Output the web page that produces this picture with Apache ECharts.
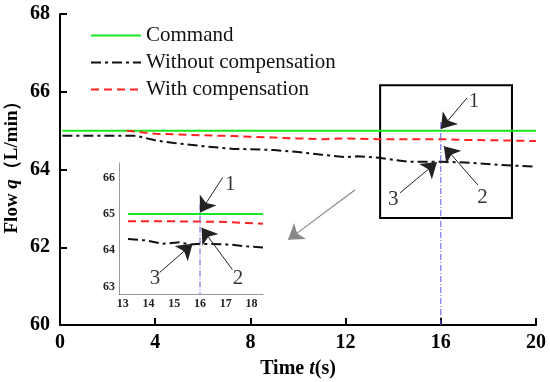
<!DOCTYPE html>
<html><head><meta charset="utf-8">
<script src="https://cdn.jsdelivr.net/npm/echarts@6/dist/echarts.min.js"></script>
<style>html,body{margin:0;padding:0;background:#fff}#c{width:550px;height:382px}</style>
</head><body><div id="c"></div>
<script>
// ---- data ----
const xTicksMain = [0, 4, 8, 12, 16, 20];
const yTicksMain = [60, 62, 64, 66, 68];
const commandMain = [[0.1, 65.0], [20, 65.0]];
const withoutMain = [[0.1, 64.87], [1.5, 64.87], [3.2, 64.87], [4.0, 64.75], [4.8, 64.68], [6.0, 64.6], [7.3, 64.53], [8.0, 64.52], [9.0, 64.5], [10.0, 64.45], [11.0, 64.38], [12.0, 64.32], [12.5, 64.34], [13.4, 64.3], [14.6, 64.2], [16.0, 64.2], [17.0, 64.18], [18.5, 64.12], [20.0, 64.07]];
const withMain = [[2.8, 65.0], [3.5, 64.95], [4.0, 64.92], [5.0, 64.9], [6.0, 64.88], [7.3, 64.86], [8.0, 64.84], [9.0, 64.82], [10.0, 64.8], [11.0, 64.78], [12.0, 64.8], [13.4, 64.78], [16.0, 64.78], [17.0, 64.76], [18.5, 64.75], [20.0, 64.73]];
const markerMain = [[16, 65.22], [16, 60]];
const zoomBox = [[13.45, 66.17], [18.99, 62.75]];
const arrowsMain = [[[17.1, 65.84], [16.0, 65.04]], [[17.56, 63.6], [16.13, 64.6]], [[14.29, 63.4], [15.84, 64.19]]];
const labelsMain = [[17.4, 65.74, '1'], [17.75, 63.27, '2'], [14.0, 63.22, '3']];
const pointerArrow = [[12.39, 63.47], [9.58, 62.19]];

const xTicksInset = [13, 14, 15, 16, 17, 18];
const yTicksInset = [63, 64, 65, 66];
const commandInset = [[13.2, 65.0], [18.45, 65.0]];
const withInset = [[13.2, 64.8], [14.5, 64.8], [16.0, 64.79], [17.0, 64.78], [18.45, 64.73]];
const withoutInset = [[13.2, 64.31], [13.93, 64.27], [14.55, 64.18], [15.2, 64.22], [15.6, 64.16], [16.0, 64.18], [17.15, 64.16], [17.8, 64.11], [18.45, 64.08]];
const markerInset = [[16, 65.26], [16, 62.8]];
const arrowsInset = [[[16.88, 66.0], [16.0, 65.04]], [[17.26, 63.47], [16.06, 64.62]], [[14.43, 63.39], [15.71, 64.18]]];
const labelsInset = [[17.18, 65.8, '1'], [17.48, 63.24, '2'], [14.25, 63.24, '3']];

const SERIF = "'Liberation Serif', 'Times New Roman', serif";
const GREEN = '#1ee61e', RED = '#ff2222', BLACK = '#111111', BLUE = '#5a5ae0';

function arrowSeries(name, arrs, xi, color, w, size) {
  return {
    name: name, type: 'lines', coordinateSystem: 'cartesian2d', xAxisIndex: xi, yAxisIndex: xi,
    symbol: ['none', 'arrow'], symbolSize: [0, size], silent: true, z: 5,
    lineStyle: { color: color, width: w, opacity: 1 },
    data: arrs.map(a => ({ coords: a }))
  };
}
function labelSeries(name, labs, xi) {
  return {
    name: name, type: 'scatter', xAxisIndex: xi, yAxisIndex: xi, symbol: 'circle', symbolSize: 2, silent: true,
    itemStyle: { color: 'rgba(0,0,0,0)' }, z: 6,
    label: { show: true, position: 'inside', formatter: p => p.data[2], fontFamily: SERIF, fontSize: 21, color: '#000' },
    data: labs
  };
}

const chart = echarts.init(document.getElementById('c'), null, { renderer: 'canvas' });
chart.setOption({
  animation: false,
  backgroundColor: '#fff',
  grid: [
    { left: 60, right: 14, top: 14, bottom: 57, outerBoundsMode: 'none', containLabel: false },
    { left: 119, right: 287, top: 163, bottom: 88, outerBoundsMode: 'none', containLabel: false }
  ],
  legend: {
    data: ['Command', 'Without compensation', 'With compensation'],
    orient: 'vertical', left: 85, top: 20, itemWidth: 50, itemHeight: 14, itemGap: 6,
    itemStyle: { opacity: 0 },
    textStyle: { fontFamily: SERIF, fontSize: 21, color: '#111' },
    selectedMode: false
  },
  xAxis: [
    {
      type: 'value', gridIndex: 0, min: 0, max: 20, interval: 4,
      name: '{b|Time }{i|t}{b|(s)}', nameLocation: 'middle', nameGap: 34,
      nameTextStyle: { rich: { b: { fontFamily: SERIF, fontSize: 20, fontWeight: 'bold', color: '#000' }, i: { fontFamily: SERIF, fontSize: 20, fontWeight: 'bold', fontStyle: 'italic', color: '#000' } } },
      axisLine: { lineStyle: { color: '#000', width: 2 } },
      axisTick: { inside: true, length: 7, lineStyle: { width: 2, color: '#000' } },
      axisLabel: { fontFamily: SERIF, fontSize: 20, fontWeight: 'bold', color: '#000', margin: 8 },
      splitLine: { show: false }
    },
    {
      type: 'value', gridIndex: 1, min: 12.85, max: 18.45,
      axisLine: { lineStyle: { color: '#999', width: 1 } },
      axisTick: { show: false },
      axisLabel: { customValues: xTicksInset, fontFamily: SERIF, fontSize: 12, fontWeight: 'bold', color: '#222', margin: 4 },
      splitLine: { show: false }
    }
  ],
  yAxis: [
    {
      type: 'value', gridIndex: 0, min: 60, max: 68, interval: 2,
      name: '{b|Flow }{i|q}{b|（L/min）}', nameLocation: 'middle', nameGap: 38, nameRotate: 90, nameMoveOverlap: false,
      nameTextStyle: { padding: [0, 0, 0, 14], rich: { b: { fontFamily: SERIF, fontSize: 19, fontWeight: 'bold', color: '#000' }, i: { fontFamily: SERIF, fontSize: 19, fontWeight: 'bold', fontStyle: 'italic', color: '#000' } } },
      axisLine: { show: true, lineStyle: { color: '#000', width: 2 } },
      axisTick: { show: true, inside: true, length: 7, lineStyle: { width: 2, color: '#000' } },
      axisLabel: { fontFamily: SERIF, fontSize: 20, fontWeight: 'bold', color: '#000', margin: 10 },
      splitLine: { show: false }
    },
    {
      type: 'value', gridIndex: 1, min: 62.8, max: 66.4,
      axisLine: { show: true, lineStyle: { color: '#999', width: 1 } },
      axisTick: { show: false },
      axisLabel: { customValues: yTicksInset, fontFamily: SERIF, fontSize: 12, fontWeight: 'bold', color: '#222', margin: 4 },
      splitLine: { show: false }
    }
  ],
  series: [
    { name: 'Command', type: 'line', xAxisIndex: 0, yAxisIndex: 0, symbol: 'none', data: commandMain, lineStyle: { color: GREEN, width: 2 }, itemStyle: { color: GREEN }, z: 3,
      markArea: { silent: true, itemStyle: { color: 'rgba(0,0,0,0)', borderColor: '#000', borderWidth: 2 },
        data: [[{ xAxis: zoomBox[0][0], yAxis: zoomBox[0][1] }, { xAxis: zoomBox[1][0], yAxis: zoomBox[1][1] }]] } },
    { name: 'Without compensation', type: 'line', xAxisIndex: 0, yAxisIndex: 0, symbol: 'none', data: withoutMain, lineStyle: { color: BLACK, width: 2, type: [10, 4, 3, 4] }, itemStyle: { color: BLACK } },
    { name: 'With compensation', type: 'line', xAxisIndex: 0, yAxisIndex: 0, symbol: 'none', data: withMain, lineStyle: { color: RED, width: 2, type: [8, 5] }, itemStyle: { color: RED } },
    { name: 'marker', type: 'line', xAxisIndex: 0, yAxisIndex: 0, symbol: 'none', data: markerMain, lineStyle: { color: BLUE, width: 1, type: [6, 2, 1, 2] } },
    arrowSeries('arrowsMain', arrowsMain, 0, '#222', 1, 15),
    arrowSeries('pointer', [pointerArrow], 0, '#888', 1.2, 15),
    labelSeries('labelsMain', labelsMain, 0),

    { name: 'cmdInset', type: 'line', xAxisIndex: 1, yAxisIndex: 1, symbol: 'none', data: commandInset, lineStyle: { color: GREEN, width: 2 } },
    { name: 'withInset', type: 'line', xAxisIndex: 1, yAxisIndex: 1, symbol: 'none', data: withInset, lineStyle: { color: RED, width: 2, type: [8, 5] } },
    { name: 'withoutInset', type: 'line', xAxisIndex: 1, yAxisIndex: 1, symbol: 'none', data: withoutInset, lineStyle: { color: BLACK, width: 2, type: [10, 4, 3, 4] } },
    { name: 'markerInset', type: 'line', xAxisIndex: 1, yAxisIndex: 1, symbol: 'none', data: markerInset, lineStyle: { color: BLUE, width: 1, type: [6, 2, 1, 2] } },
    arrowSeries('arrowsInset', arrowsInset, 1, '#222', 1, 15),
    labelSeries('labelsInset', labelsInset, 1)
  ]
});
</script></body></html>
